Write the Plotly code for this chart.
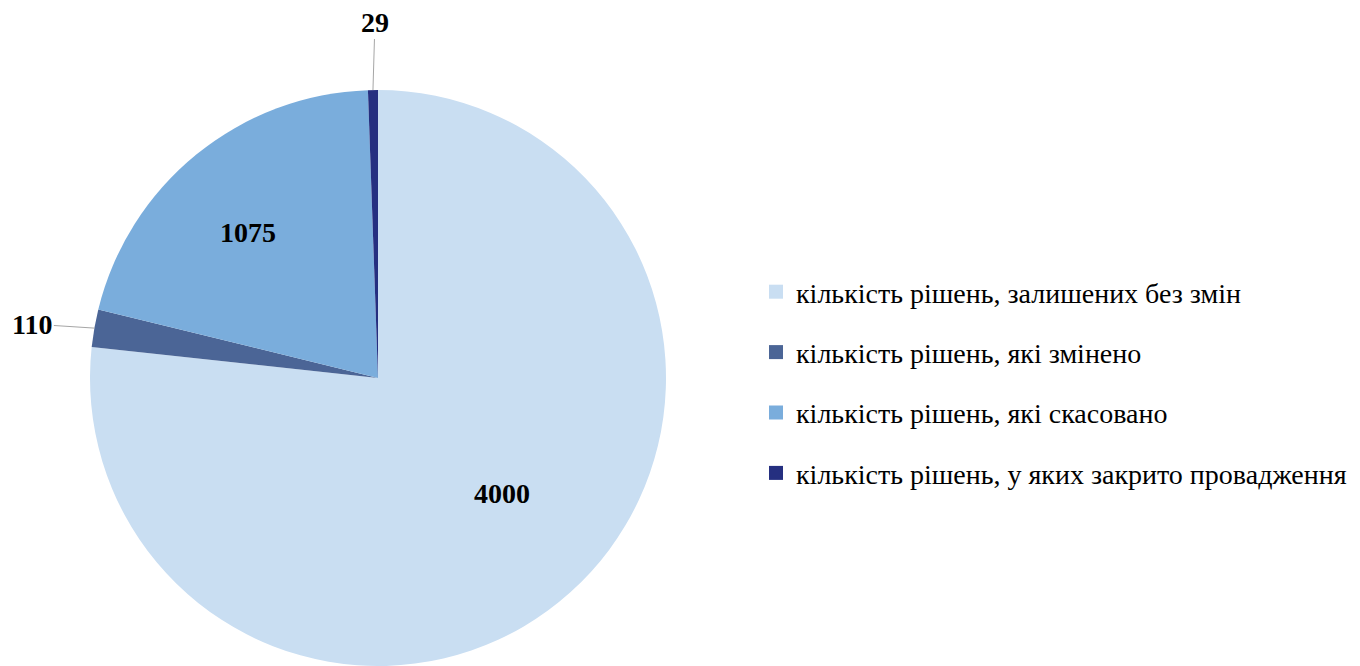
import math
import plotly.graph_objects as go

categories = [
    "кількість рішень, залишених без змін",
    "кількість рішень, які змінено",
    "кількість рішень, які скасовано",
    "кількість рішень, у яких закрито провадження",
]
values = [4000, 110, 1075, 29]
colors = ["#C9DEF2", "#4B6596", "#7AADDC", "#252F80"]

# page body has an 8px margin, so the figure is 8px smaller than the window
W, H = 1352, 658
R = 288
CX, CY = 370, 370
dom_x = [(CX - R) / W, (CX + R) / W]
dom_y = [1 - (CY + R) / H, 1 - (CY - R) / H]

fig = go.Figure()
fig.add_trace(go.Pie(
    labels=categories, values=values, sort=False, direction="clockwise", rotation=0,
    marker=dict(colors=colors, line=dict(width=0)),
    textinfo="none", domain=dict(x=dom_x, y=dom_y), showlegend=False,
    hoverinfo="label+value",
))

# legend entries
for c, col in zip(categories, colors):
    fig.add_trace(go.Scatter(x=[None], y=[None], mode="markers", name=c, legendgroup=c,
                             marker=dict(symbol="square", size=14, color=col)))

# data labels: inside labels at a radial fraction, outside labels with leader lines
label_style = {
    0: dict(kind="in", frac=0.59, dx=10, dy=11),
    1: dict(kind="out", ax=-62, ay=-4),
    2: dict(kind="in", frac=0.68, dx=-6, dy=-6),
    3: dict(kind="out", ax=2, ay=-68),
}
lab_font = dict(family="Liberation Serif", size=28, color="black", weight="bold")
total = sum(values)
cum = 0
for i, v in enumerate(values):
    mid = (cum + v / 2) / total * 2 * math.pi
    cum += v
    st = label_style[i]
    if st["kind"] == "in":
        px = CX + st["frac"] * R * math.sin(mid)
        py = CY - st["frac"] * R * math.cos(mid)
        fig.add_annotation(x=px / W, y=1 - py / H, xref="paper", yref="paper",
                           xanchor="center", yanchor="middle",
                           text=str(v), showarrow=False, xshift=st["dx"], yshift=st["dy"],
                           font=lab_font)
    else:
        px = CX + R * math.sin(mid)
        py = CY - R * math.cos(mid)
        fig.add_annotation(x=px / W, y=1 - py / H, xref="paper", yref="paper",
                           text=str(v), showarrow=True, arrowhead=0, arrowwidth=1,
                           arrowcolor="#A6A6A6", ax=st["ax"], ay=st["ay"], standoff=0,
                           font=lab_font)

fig.update_layout(
    width=W, height=H, margin=dict(l=0, r=0, t=0, b=0),
    paper_bgcolor="white", plot_bgcolor="white",
    xaxis=dict(visible=False), yaxis=dict(visible=False),
    legend=dict(x=748 / W, y=1 - 259 / H, xanchor="left", yanchor="top",
                font=dict(family="Liberation Serif, Times New Roman, serif", size=28, color="black"),
                tracegroupgap=21, bgcolor="rgba(0,0,0,0)"),
)
fig.write_html("out.html")
